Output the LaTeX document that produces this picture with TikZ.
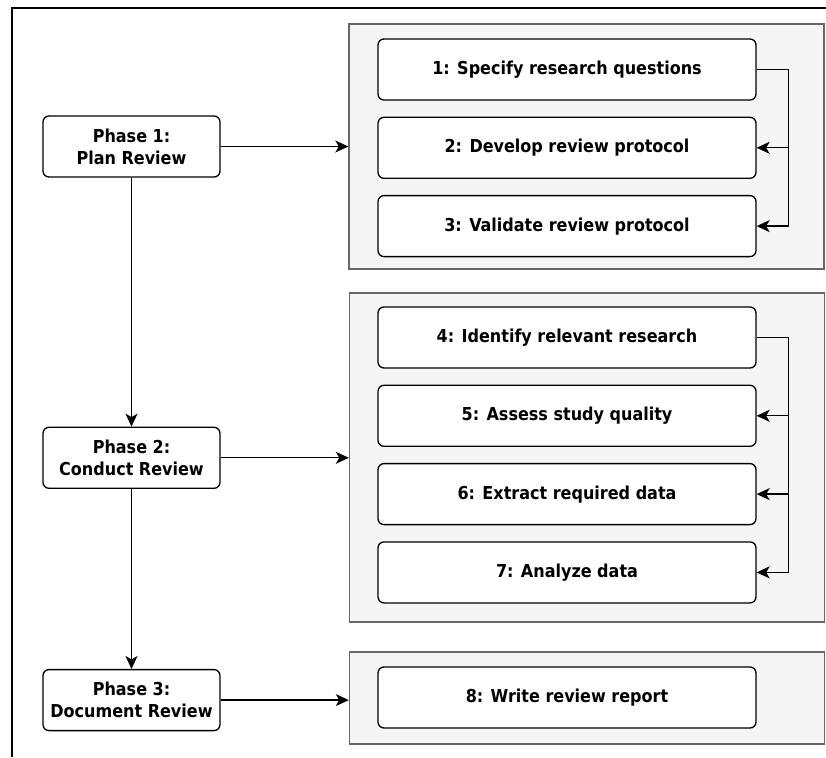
\documentclass[tikz,border=0pt]{standalone}
\usepackage{fontspec}
\setmainfont{DejaVuSansCondensed.ttf}[BoldFont=DejaVuSansCondensed-Bold.ttf]
\usetikzlibrary{arrows.meta, positioning}

\definecolor{groupfill}{HTML}{F5F5F5}
\definecolor{groupline}{HTML}{666666}

\begin{document}
\begin{tikzpicture}[x=1pt, y=1pt,
node distance = 16pt,
phase/.style = {draw, rounded corners=6pt, fill=white, line width=1.3pt,
                minimum width=177pt, minimum height=61pt, inner sep=2pt,
                font=\fontsize{17.8}{22}\selectfont\bfseries, align=center},
stepbox/.style = {phase, minimum width=378pt},
group/.style = {draw=groupline, fill=groupfill, line width=1.4pt,
                minimum width=475pt},
arr/.style = {-{Stealth[length=13pt, width=12pt, inset=3.5pt]}, line width=1.3pt},
                    ]
%---
\useasboundingbox[fill=white] (0,0) rectangle (826,-757);
\draw[line width=1.4pt] (826,-8) -- (12,-8) -- (12,-757);
%------- groups
\node[group, minimum height=245pt] (grPlan)     at (586.5,-146.5) {};
\node[group, minimum height=329pt] (grConduct)  at (587,-457.5)   {};
\node[group, minimum height=92pt]  (grDocument) at (587,-698)     {};
%------- steps
\node[stepbox] (specify) at (567,-69.5)     {1: Specify research questions};
\node[stepbox] (develop)  [below=of specify] {2: Develop review protocol};
\node[stepbox] (validate) [below=of develop] {3: Validate review protocol};
%
\node[stepbox] (identify) at (567,-337.5)   {4: Identify relevant research};
\node[stepbox] (assess)   [below=of identify] {5: Assess study quality};
\node[stepbox] (extract)  [below=of assess]   {6: Extract required data};
\node[stepbox] (analyze)  [below=of extract]  {7: Analyze data};
%
\node[stepbox] (write) at (567,-697.5)      {8: Write review report};
%------- phases
\node[phase] (phPlan) at (131.5,-146.5)         {Phase 1:\\ Plan Review};
\node[phase] (phConduct)  [below=249pt of phPlan]    {Phase 2:\\ Conduct Review};
\node[phase] (phDocument) [below=180pt of phConduct] {Phase 3:\\ Document Review};
%------- edges
\draw[arr] (phPlan)     -- (phConduct);
\draw[arr] (phConduct)  -- (phDocument);
\draw[arr] (phPlan)     -- (grPlan);
\draw[arr] (phConduct.east)  -- (phConduct.east -| grConduct.west);
\draw[arr] (phDocument.east) -- (phDocument.east -| grDocument.west);
% feedback lines
\coordinate[right=32pt of specify.east]  (fbPlan);
\coordinate[right=32pt of identify.east] (fbConduct);
\draw (specify.east) [line width=1.3pt] -- (fbPlan);
\draw[arr] (fbPlan) |- (develop);
\draw[arr] (fbPlan) |- (validate);
\draw (identify.east) [line width=1.3pt] -- (fbConduct);
\draw[arr] (fbConduct) |- (assess);
\draw[arr] (fbConduct) |- (extract);
\draw[arr] (fbConduct) |- (analyze);
\end{tikzpicture}
\end{document}
